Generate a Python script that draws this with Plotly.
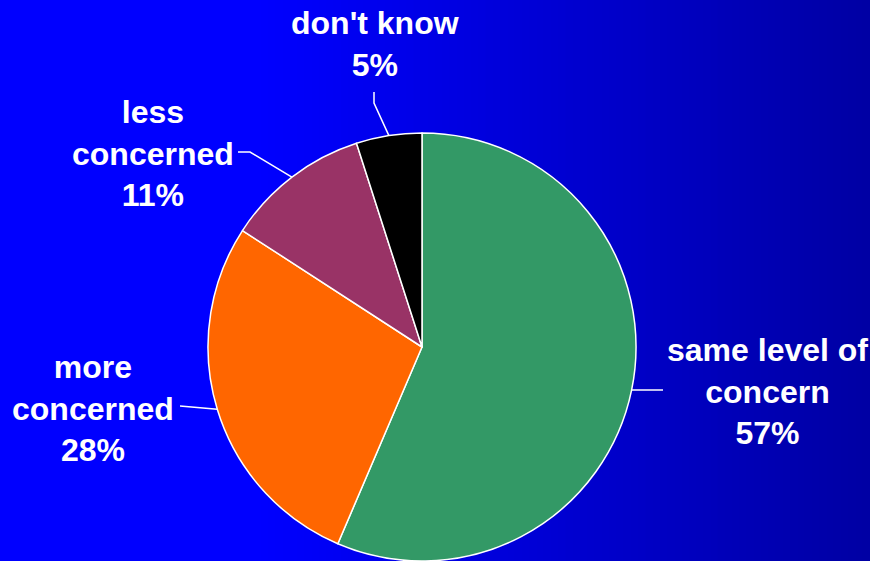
import math
import plotly.graph_objects as go

# Survey responses, clockwise from 12 o'clock
labels = ["same level of<br>concern", "more<br>concerned", "less<br>concerned", "don't know"]
values = [57, 28, 11, 5]
colors = ["#339966", "#FF6600", "#993366", "#000000"]

W, H = 870, 561
CX, CY, R = 422, 347, 214          # pie centre and radius in pixels

# label block centres and the bend points of their leader lines (pixels)
label_pos = [(767, 391), (93, 408), (153, 153), (375, 44)]
leader_bends = [
    [(663, 390)],
    [(180, 406)],
    [(250, 152), (238, 152)],
    [(374, 103), (374, 92)],
]

fig = go.Figure()

fig.add_trace(go.Pie(
    labels=labels,
    values=values,
    sort=False,
    direction="clockwise",
    rotation=0,
    marker=dict(colors=colors, line=dict(color="white", width=1.5)),
    textinfo="none",
    hoverinfo="label+value",
    showlegend=False,
    domain=dict(x=[(CX - R) / W, (CX + R) / W],
                y=[(H - CY - R) / H, (H - CY + R) / H]),
))

shapes = []
# horizontal blue gradient behind everything
n_strips = 120
for i in range(n_strips):
    t = (i + 0.5) / n_strips
    if t < 0.3:
        b = 255
    else:
        b = int(round(255 - (t - 0.3) / 0.7 * 92))
    shapes.append(dict(type="rect", xref="paper", yref="paper",
                       x0=i / n_strips, x1=(i + 1) / n_strips + 0.002, y0=0, y1=1,
                       fillcolor=f"rgb(0,0,{b})", line=dict(width=0), layer="below"))

annotations = []
total = sum(values)
cum = 0
for lab, v, pos, bends in zip(labels, values, label_pos, leader_bends):
    mid = (cum + v / 2) / total * 2 * math.pi
    cum += v
    ex = CX + R * math.sin(mid)
    ey = CY - R * math.cos(mid)
    pts = [(ex, ey)] + bends
    path = "M " + " L ".join(f"{x:.1f},{y:.1f}" for x, y in pts)
    shapes.append(dict(type="path", xref="x", yref="y", path=path,
                       line=dict(color="white", width=1.5), layer="above"))
    annotations.append(dict(
        x=pos[0], y=pos[1], xref="x", yref="y",
        text=f"<b>{lab}<br>{v}%</b>", showarrow=False,
        xanchor="center", yanchor="middle", align="center",
        font=dict(family="Liberation Sans, Arial, sans-serif", size=32, color="white"),
    ))

fig.update_layout(
    width=W, height=H,
    margin=dict(l=0, r=0, t=0, b=0),
    paper_bgcolor="#0000FF",
    plot_bgcolor="rgba(0,0,0,0)",
    xaxis=dict(range=[0, W], visible=False, fixedrange=True, domain=[0, 1]),
    yaxis=dict(range=[H, 0], visible=False, fixedrange=True, domain=[0, 1]),
    shapes=shapes,
    annotations=annotations,
)

fig.write_html("out.html", config={"displayModeBar": False})
